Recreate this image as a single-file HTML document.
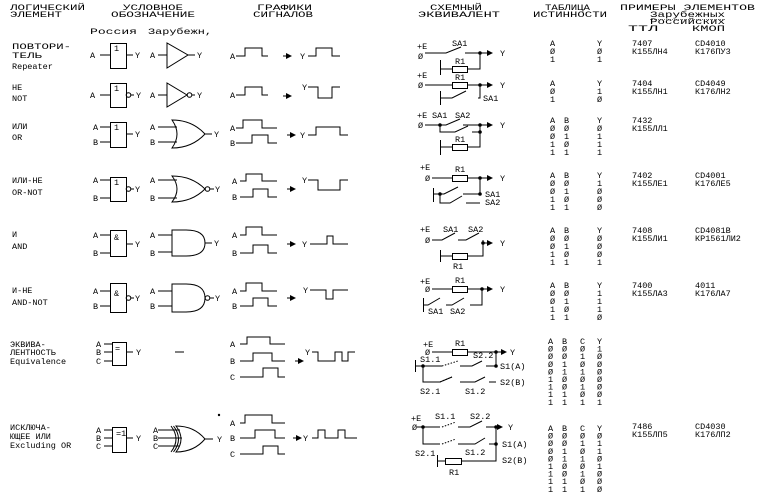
<!DOCTYPE html>
<html><head><meta charset="utf-8"><style>html,body{margin:0;padding:0;background:#fff}svg{display:block}text{font-family:"Liberation Mono","DejaVu Sans Mono",monospace;font-size:8.5px;fill:#000}</style></head><body>
<svg width="760" height="494" viewBox="0 0 760 494" xmlns="http://www.w3.org/2000/svg">
<defs><marker id="ar" markerWidth="6" markerHeight="6" refX="5" refY="3" orient="auto" markerUnits="userSpaceOnUse"><path d="M0,0 L6,3 L0,6 Z" fill="#000"/></marker></defs>
<g fill="none" stroke="#000" stroke-width="1">
<rect x="110.5" y="43.5" width="16" height="25"/><path d="M100,55H110M126,55H133M158,55H167"/><path d="M167,43V68L188,55ZM188,55H195"/>
<path d="M236,56H245V48H262V56H268M308,56H316V48H332V56H340"/><path d="M283,56H291" marker-end="url(#ar)"/>
<rect x="110.5" y="83.5" width="16" height="24"/><path d="M100,95H110M131,95H134M158,95H167"/><circle cx="128.5" cy="95" r="2.3"/><path d="M167,83V107L187,95Z"/><circle cx="189.5" cy="95" r="2.3"/><path d="M192,95H195"/>
<path d="M236,95H245V87H262V95H268M308,87H318V98H332V87H340"/><path d="M283,96H291" marker-end="url(#ar)"/>
<rect x="110.5" y="122.5" width="16" height="25"/><path d="M100,127H110M100,142H110M126,134H133M158,127H177M158,142H177"/>
<path d="M172,120Q192,120 205,134Q192,148 172,148Q182,134 172,120ZM205,134H212"/>
<path d="M236,128H243V120H262V128H277M236,143H252V135H268V143H277M308,135H316V127H340V135H348"/><path d="M287,135H295" marker-end="url(#ar)"/>
<rect x="110.5" y="177.5" width="16" height="24"/><path d="M100,180H110M100,198H110M131,189H134M158,180H177M158,198H177"/><circle cx="128.5" cy="189" r="2.3"/>
<path d="M172,176Q192,176 205,189Q192,202 172,202Q182,189 172,176Z"/><circle cx="207.5" cy="189" r="2.3"/><path d="M210,189H214"/>
<path d="M240,181H246V174H262V181H277M240,197H253V189H268V197H277M308,180H318V190H340V180H348"/><path d="M287,189H295" marker-end="url(#ar)"/>
<rect x="110.5" y="230.5" width="16" height="26"/><path d="M100,235H110M100,253H110M126,244H133M158,235H172M158,252H172"/>
<path d="M172,230H186Q205,230 205,243Q205,256 186,256H172ZM205,243H212"/>
<path d="M240,235H246V227H262V235H277M240,253H253V245H268V253H277M310,244H327V236H333V244H348"/><path d="M287,244H295" marker-end="url(#ar)"/>
<rect x="110.5" y="283.5" width="16" height="29"/><path d="M100,291H110M100,306H110M131,298H134M158,291H172M158,306H172"/><circle cx="128.5" cy="298" r="2.3"/>
<path d="M172,284H186Q205,284 205,298Q205,312 186,312H172Z"/><circle cx="207.5" cy="298" r="2.3"/><path d="M210,298H214"/>
<path d="M240,291H246V283H262V291H277M240,306H253V298H268V306H277M310,290H326V299H333V290H348"/><path d="M287,298H295" marker-end="url(#ar)"/>
<rect x="112.5" y="342.5" width="14" height="23"/><path d="M104,344H112M104,352H112M104,361H112M126,352H133M175,352H184"/>
<path d="M240,344H247V337H270V344H285M240,361H253V353H272V361H285M240,377H263V368H278V377H285M312,352H318V361H335V352H342V361H348V352H355"/><path d="M295,361H303" marker-end="url(#ar)"/>
<rect x="112.5" y="427.5" width="14" height="25"/><path d="M104,430H112M104,438H112M104,446H112M126,438H133M158,430H180M158,438H182M158,446H180"/>
<path d="M176,426Q194,426 205,439Q194,452 176,452Q186,439 176,426ZM171,426Q181,439 171,452M173.5,426Q183.5,439 173.5,452M205,439H213"/>
<path d="M240,423H245V415H272V423H285M240,438H255V430H275V438H285M240,454H263V446H278V454H285M312,438H318V430H325V438H338V430H345V438H357"/><path d="M293,438H301" marker-end="url(#ar)"/>
</g>
<circle cx="219" cy="415" r="1.2"/>
<g font-size="8">
<text x="90" y="58">A</text><text x="135" y="58">Y</text><text x="150" y="58">A</text><text x="197" y="58">Y</text><text x="114" y="51" font-size="7">1</text>
<text x="90" y="98">A</text><text x="136" y="98">Y</text><text x="150" y="98">A</text><text x="197" y="98">Y</text><text x="114" y="91" font-size="7">1</text>
<text x="93" y="130">A</text><text x="93" y="145">B</text><text x="135" y="137">Y</text><text x="150" y="130">A</text><text x="150" y="145">B</text><text x="214" y="137">Y</text><text x="114" y="130" font-size="7">1</text>
<text x="93" y="183">A</text><text x="93" y="201">B</text><text x="135" y="192">Y</text><text x="150" y="183">A</text><text x="150" y="201">B</text><text x="215" y="192">Y</text><text x="114" y="185" font-size="7">1</text>
<text x="93" y="238">A</text><text x="93" y="256">B</text><text x="135" y="247">Y</text><text x="150" y="238">A</text><text x="150" y="256">B</text><text x="214" y="246">Y</text><text x="114" y="240" font-size="7">&amp;</text>
<text x="93" y="294">A</text><text x="93" y="309">B</text><text x="135" y="301">Y</text><text x="150" y="294">A</text><text x="150" y="309">B</text><text x="215" y="301">Y</text><text x="114" y="296" font-size="7">&amp;</text>
<text x="96" y="347">A</text><text x="96" y="355">B</text><text x="96" y="364">C</text><text x="136" y="355">Y</text><text x="115" y="351">=</text>
<text x="96" y="433">A</text><text x="96" y="441">B</text><text x="96" y="449">C</text><text x="136" y="441">Y</text><text x="116" y="436" font-size="7">=1</text>
<text x="153" y="433">A</text><text x="153" y="441">B</text><text x="153" y="449">C</text><text x="217" y="442">Y</text>
<text x="230" y="59">A</text><text x="300" y="59">Y</text><text x="230" y="98">A</text><text x="302" y="90">Y</text>
<text x="230" y="131">A</text><text x="230" y="146">B</text><text x="300" y="138">Y</text>
<text x="232" y="184">A</text><text x="232" y="200">B</text><text x="302" y="183">Y</text>
<text x="232" y="238">A</text><text x="232" y="256">B</text><text x="302" y="247">Y</text>
<text x="232" y="294">A</text><text x="232" y="309">B</text><text x="303" y="293">Y</text>
<text x="230" y="347">A</text><text x="230" y="364">B</text><text x="230" y="380">C</text><text x="305" y="355">Y</text>
<text x="230" y="426">A</text><text x="230" y="441">B</text><text x="230" y="457">C</text><text x="303" y="441">Y</text>
</g>
<g font-size="10">
<text x="10" y="10" textLength="75" lengthAdjust="spacingAndGlyphs">ЛОГИЧЕСКИЙ</text><text x="10" y="17" textLength="52" lengthAdjust="spacingAndGlyphs">ЭЛЕМЕНТ</text>
<text x="123" y="10" textLength="60" lengthAdjust="spacingAndGlyphs">УСЛОВНОЕ</text><text x="111" y="17" textLength="84" lengthAdjust="spacingAndGlyphs">ОБОЗНАЧЕНИЕ</text>
<text x="257" y="10" textLength="55" lengthAdjust="spacingAndGlyphs">ГРАФИКИ</text><text x="253" y="17" textLength="60" lengthAdjust="spacingAndGlyphs">СИГНАЛОВ</text>
<text x="90" y="34" textLength="47" lengthAdjust="spacingAndGlyphs">Россия</text><text x="148" y="34" textLength="64" lengthAdjust="spacingAndGlyphs">Зарубежн,</text>
<text x="430" y="10" textLength="52" lengthAdjust="spacingAndGlyphs">СХЕМНЫЙ</text><text x="418" y="17" textLength="82" lengthAdjust="spacingAndGlyphs">ЭКВИВАЛЕНТ</text>
<text x="545" y="10" textLength="45" lengthAdjust="spacingAndGlyphs">ТАБЛИЦА</text><text x="533" y="17" textLength="74" lengthAdjust="spacingAndGlyphs">ИСТИННОСТИ</text>
<text x="620" y="10" textLength="135" lengthAdjust="spacingAndGlyphs">ПРИМЕРЫ ЭЛЕМЕНТОВ</text>
<text x="650" y="17" textLength="75" font-size="8" lengthAdjust="spacingAndGlyphs">Зарубежных</text>
<text x="650" y="24" textLength="75" font-size="8" lengthAdjust="spacingAndGlyphs">Российских</text>
<text x="628" y="31" textLength="30" lengthAdjust="spacingAndGlyphs">ТТЛ</text><text x="692" y="31" textLength="33" lengthAdjust="spacingAndGlyphs">КМОП</text>
</g>
<path d="M650,19.5H725" stroke="#000" stroke-width="0.6" stroke-dasharray="1,1"/>
<g font-size="8.5">
<text x="12" y="49" textLength="59" lengthAdjust="spacingAndGlyphs">ПОВТОРИ-</text><text x="12" y="58" textLength="30" lengthAdjust="spacingAndGlyphs">ТЕЛЬ</text><text x="12" y="69">Repeater</text>
<text x="12" y="90">НЕ</text><text x="12" y="101">NOT</text>
<text x="12" y="129">ИЛИ</text><text x="12" y="140">OR</text>
<text x="12" y="183">ИЛИ-НЕ</text><text x="12" y="195">OR-NOT</text>
<text x="12" y="237">И</text><text x="12" y="249">AND</text>
<text x="12" y="293">И-НЕ</text><text x="12" y="305">AND-NOT</text>
<text x="10" y="347">ЭКВИВА-</text><text x="10" y="355">ЛЕНТНОСТЬ</text><text x="10" y="364">Equivalence</text>
<text x="10" y="430">ИСКЛЮЧА-</text><text x="10" y="439">ЮЩЕЕ ИЛИ</text><text x="10" y="448">Excluding OR</text>
</g>
<g fill="none" stroke="#000" stroke-width="1">
<path d="M425,53H446L461,47M465,53H492" marker-end="url(#ar)"/><path d="M440.5,60V75M441,69H452M468,69H480V53"/><rect x="452.5" y="66.5" width="15" height="6"/>
<path d="M425,85H452M468,85H492" marker-end="url(#ar)"/><rect x="452.5" y="82.5" width="15" height="6"/><path d="M440.5,91V105M441,98H452L466,91M478,98H480V85"/>
<path d="M425,125H446L460,119M463,125H492" marker-end="url(#ar)"/><path d="M440,125V132H455L468,126M472,132H480V125"/><path d="M440.5,140V155M441,147H452M468,147H480V132"/><rect x="452.5" y="144.5" width="15" height="6"/>
<path d="M432,178H452M468,178H492" marker-end="url(#ar)"/><rect x="452.5" y="175.5" width="15" height="6"/><path d="M433.5,188V202M434,194H444L458,187M463,194H480V178M440,194V203H450L462,196M466,203H480"/>
<path d="M432,240H442L455,233M458,240H466L479,233M483,240V243H492" marker-end="url(#ar)"/><path d="M440.5,250V262M441,256H452M468,256H483V242"/><rect x="452.5" y="253.5" width="15" height="6"/>
<path d="M432,289H452M468,289H492" marker-end="url(#ar)"/><rect x="452.5" y="286.5" width="15" height="6"/><path d="M423.5,298V312M424,305H428L440,298M446,305H452L464,298M470,305H482V289"/>
<path d="M432,352H452M468,352H506" marker-end="url(#ar)"/><rect x="452.5" y="349.5" width="15" height="6"/><path d="M415.5,360V372M416,366H442M460,366H472L482,361M486,366H496V352M423,366V382H440L452,377M460,382H475L485,377M489,382H496"/>
<path d="M417,427H440M458,427H470L482,421M486,427H502" marker-end="url(#ar)"/><path d="M423,427V444H440M458,444H475L485,438M489,444H496V427M437.5,455V467M438,461H445M462,461H496V444"/><rect x="445.5" y="458.5" width="16" height="6"/>
<path d="M442,366L458,361M442,427L456,422M442,444L456,439M440,382L452,377" stroke-dasharray="1.5,1.5"/>
</g>
<g fill="#000"><circle cx="480" cy="53" r="1.8"/><circle cx="480" cy="85" r="1.8"/><circle cx="440" cy="125" r="1.8"/><circle cx="480" cy="125" r="1.8"/><circle cx="480" cy="132" r="1.8"/><circle cx="480" cy="178" r="1.8"/><circle cx="440" cy="194" r="1.8"/><circle cx="480" cy="194" r="1.8"/><circle cx="483" cy="243" r="1.8"/><circle cx="482" cy="289" r="1.8"/><circle cx="496" cy="352" r="1.8"/><circle cx="496" cy="366" r="1.8"/><circle cx="423" cy="366" r="1.8"/><circle cx="423" cy="427" r="1.8"/><circle cx="496" cy="427" r="1.8"/><circle cx="496" cy="444" r="1.8"/></g>
<g font-size="8">
<text x="417" y="49">+E</text><text x="418" y="59">Ø</text><text x="452" y="46">SA1</text><text x="500" y="56">Y</text><text x="455" y="64">R1</text>
<text x="417" y="78">+E</text><text x="418" y="88">Ø</text><text x="455" y="80">R1</text><text x="500" y="88">Y</text><text x="483" y="101">SA1</text>
<text x="417" y="118">+E</text><text x="432" y="118">SA1</text><text x="455" y="118">SA2</text><text x="418" y="128">Ø</text><text x="500" y="128">Y</text><text x="455" y="142">R1</text>
<text x="420" y="170">+E</text><text x="425" y="181">Ø</text><text x="455" y="172">R1</text><text x="500" y="181">Y</text><text x="485" y="197">SA1</text><text x="485" y="205">SA2</text>
<text x="420" y="232">+E</text><text x="443" y="232">SA1</text><text x="468" y="232">SA2</text><text x="425" y="243">Ø</text><text x="500" y="246">Y</text><text x="453" y="269">R1</text>
<text x="420" y="284">+E</text><text x="425" y="292">Ø</text><text x="455" y="283">R1</text><text x="500" y="292">Y</text><text x="428" y="314">SA1</text><text x="450" y="314">SA2</text>
<text x="423" y="347">+E</text><text x="425" y="355">Ø</text><text x="455" y="346">R1</text><text x="473" y="358">S2.2</text><text x="510" y="355">Y</text><text x="420" y="362">S1.1</text><text x="500" y="369">S1(A)</text><text x="500" y="385">S2(B)</text><text x="420" y="394">S2.1</text><text x="465" y="394">S1.2</text>
<text x="411" y="421">+E</text><text x="412" y="430">Ø</text><text x="435" y="419">S1.1</text><text x="470" y="419">S2.2</text><text x="508" y="430">Y</text><text x="502" y="447">S1(A)</text><text x="415" y="456">S2.1</text><text x="465" y="455">S1.2</text><text x="502" y="463">S2(B)</text><text x="449" y="475">R1</text>
</g>
<g font-size="8">
<text x="550" y="46">A</text><text x="597" y="46">Y</text><text x="550" y="54">Ø</text><text x="597" y="54">Ø</text><text x="550" y="62">1</text><text x="597" y="62">1</text>
<text x="550" y="86">A</text><text x="597" y="86">Y</text><text x="550" y="94">Ø</text><text x="597" y="94">1</text><text x="550" y="102">1</text><text x="597" y="102">Ø</text>
<text x="550" y="123">A</text><text x="564" y="123">B</text><text x="597" y="123">Y</text>
<text x="550" y="131">Ø</text><text x="564" y="131">Ø</text><text x="597" y="131">Ø</text>
<text x="550" y="139">Ø</text><text x="564" y="139">1</text><text x="597" y="139">1</text>
<text x="550" y="147">1</text><text x="564" y="147">Ø</text><text x="597" y="147">1</text>
<text x="550" y="155">1</text><text x="564" y="155">1</text><text x="597" y="155">1</text>
<text x="550" y="178">A</text><text x="564" y="178">B</text><text x="597" y="178">Y</text>
<text x="550" y="186">Ø</text><text x="564" y="186">Ø</text><text x="597" y="186">1</text>
<text x="550" y="194">Ø</text><text x="564" y="194">1</text><text x="597" y="194">Ø</text>
<text x="550" y="202">1</text><text x="564" y="202">Ø</text><text x="597" y="202">Ø</text>
<text x="550" y="210">1</text><text x="564" y="210">1</text><text x="597" y="210">Ø</text>
<text x="550" y="233">A</text><text x="564" y="233">B</text><text x="597" y="233">Y</text>
<text x="550" y="241">Ø</text><text x="564" y="241">Ø</text><text x="597" y="241">Ø</text>
<text x="550" y="249">Ø</text><text x="564" y="249">1</text><text x="597" y="249">Ø</text>
<text x="550" y="257">1</text><text x="564" y="257">Ø</text><text x="597" y="257">Ø</text>
<text x="550" y="265">1</text><text x="564" y="265">1</text><text x="597" y="265">1</text>
<text x="550" y="288">A</text><text x="564" y="288">B</text><text x="597" y="288">Y</text>
<text x="550" y="296">Ø</text><text x="564" y="296">Ø</text><text x="597" y="296">1</text>
<text x="550" y="304">Ø</text><text x="564" y="304">1</text><text x="597" y="304">1</text>
<text x="550" y="312">1</text><text x="564" y="312">Ø</text><text x="597" y="312">1</text>
<text x="550" y="320">1</text><text x="564" y="320">1</text><text x="597" y="320">Ø</text>
<text x="548" y="344">A</text><text x="562" y="344">B</text><text x="580" y="344">C</text><text x="597" y="344">Y</text>
<text x="548" y="351.6">Ø</text><text x="562" y="351.6">Ø</text><text x="580" y="351.6">Ø</text><text x="597" y="351.6">1</text>
<text x="548" y="359.2">Ø</text><text x="562" y="359.2">Ø</text><text x="580" y="359.2">1</text><text x="597" y="359.2">Ø</text>
<text x="548" y="366.8">Ø</text><text x="562" y="366.8">1</text><text x="580" y="366.8">Ø</text><text x="597" y="366.8">Ø</text>
<text x="548" y="374.4">Ø</text><text x="562" y="374.4">1</text><text x="580" y="374.4">1</text><text x="597" y="374.4">Ø</text>
<text x="548" y="382">1</text><text x="562" y="382">Ø</text><text x="580" y="382">Ø</text><text x="597" y="382">Ø</text>
<text x="548" y="389.6">1</text><text x="562" y="389.6">Ø</text><text x="580" y="389.6">1</text><text x="597" y="389.6">Ø</text>
<text x="548" y="397.2">1</text><text x="562" y="397.2">1</text><text x="580" y="397.2">Ø</text><text x="597" y="397.2">Ø</text>
<text x="548" y="404.8">1</text><text x="562" y="404.8">1</text><text x="580" y="404.8">1</text><text x="597" y="404.8">1</text>
<text x="548" y="431">A</text><text x="562" y="431">B</text><text x="580" y="431">C</text><text x="597" y="431">Y</text>
<text x="548" y="438.6">Ø</text><text x="562" y="438.6">Ø</text><text x="580" y="438.6">Ø</text><text x="597" y="438.6">Ø</text>
<text x="548" y="446.2">Ø</text><text x="562" y="446.2">Ø</text><text x="580" y="446.2">1</text><text x="597" y="446.2">1</text>
<text x="548" y="453.8">Ø</text><text x="562" y="453.8">1</text><text x="580" y="453.8">Ø</text><text x="597" y="453.8">1</text>
<text x="548" y="461.4">Ø</text><text x="562" y="461.4">1</text><text x="580" y="461.4">1</text><text x="597" y="461.4">Ø</text>
<text x="548" y="469">1</text><text x="562" y="469">Ø</text><text x="580" y="469">Ø</text><text x="597" y="469">1</text>
<text x="548" y="476.6">1</text><text x="562" y="476.6">Ø</text><text x="580" y="476.6">1</text><text x="597" y="476.6">Ø</text>
<text x="548" y="484.2">1</text><text x="562" y="484.2">1</text><text x="580" y="484.2">Ø</text><text x="597" y="484.2">Ø</text>
<text x="548" y="491.8">1</text><text x="562" y="491.8">1</text><text x="580" y="491.8">1</text><text x="597" y="491.8">Ø</text>
</g>
<g font-size="8.5">
<text x="632" y="46">7407</text><text x="632" y="54">К155ЛН4</text><text x="695" y="46">CD4010</text><text x="695" y="54">К176ПУ3</text>
<text x="632" y="86">7404</text><text x="632" y="94">К155ЛН1</text><text x="695" y="86">CD4049</text><text x="695" y="94">К176ЛН2</text>
<text x="632" y="123">7432</text><text x="632" y="131">К155ЛЛ1</text>
<text x="632" y="178">7402</text><text x="632" y="186">К155ЛЕ1</text><text x="695" y="178">CD4001</text><text x="695" y="186">К176ЛЕ5</text>
<text x="632" y="233">7408</text><text x="632" y="241">К155ЛИ1</text><text x="695" y="233">CD4081B</text><text x="695" y="241">КР1561ЛИ2</text>
<text x="632" y="288">7400</text><text x="632" y="296">К155ЛА3</text><text x="695" y="288">4011</text><text x="695" y="296">К176ЛА7</text>
<text x="632" y="429">7486</text><text x="632" y="437">К155ЛП5</text><text x="695" y="429">CD4030</text><text x="695" y="437">К176ЛП2</text>
</g>
</svg>
</body></html>
